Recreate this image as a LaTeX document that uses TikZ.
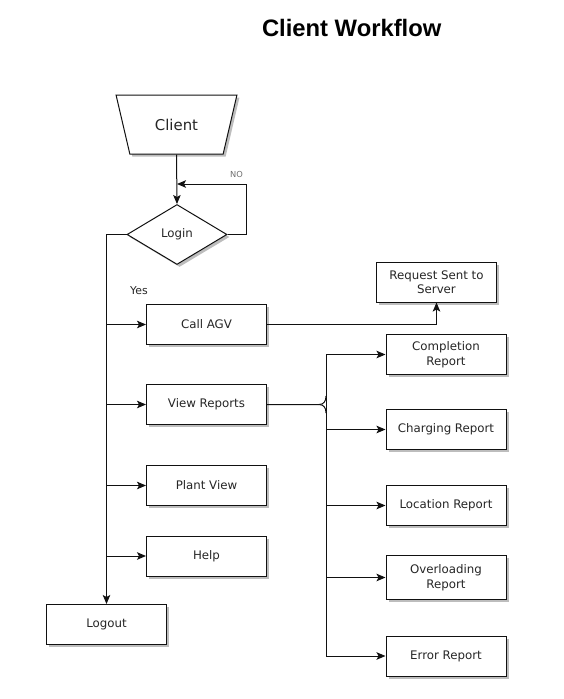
\documentclass[tikz,border=0pt]{standalone}
\usepackage{fontspec}
\setmainfont{DejaVu Sans}
\newfontfamily\titlefont{Liberation Sans}
\usetikzlibrary{
  arrows.meta,
  shadows,
  shapes.geometric
}
\definecolor{ink}{HTML}{111111}
\definecolor{label}{HTML}{262626}
\definecolor{faint}{HTML}{6E6E6E}
\definecolor{shade}{HTML}{BDBDBD}
\tikzset{
  flow/.style={
    -{Stealth[length=9pt, width=7.5pt, inset=2pt]},
    line width=1pt,
    draw=ink
  },
  link/.style={
    line width=1pt,
    draw=ink
  },
  boxshade/.style={
    drop shadow={shadow xshift=2.5pt, shadow yshift=-2.5pt, fill=shade, opacity=1}
  },
  action/.style={
    draw=ink,
    fill=white,
    line width=1pt,
    boxshade,
    minimum width=120pt,
    minimum height=40pt,
    inner sep=2pt,
    align=center,
    text=label,
    font=\fontsize{11.8}{14.5}\selectfont
  },
  decision/.style={
    diamond,
    aspect=1.67,
    draw=ink,
    fill=white,
    line width=1pt,
    boxshade,
    minimum width=100pt,
    minimum height=60pt,
    inner sep=0pt,
    text=label,
    font=\fontsize{11.8}{14.5}\selectfont
  },
  terminal/.style={
    trapezium,
    trapezium stretches=true,
    shape border rotate=180,
    trapezium left angle=68,
    trapezium right angle=68,
    draw=ink,
    fill=white,
    line width=1pt,
    boxshade,
    minimum width=121pt,
    minimum height=59pt,
    text=label,
    font=\fontsize{14.9}{18}\selectfont
  },
  tag/.style={
    inner sep=0pt,
    text=label
  }
}

\begin{document}
\begin{tikzpicture}[x=1pt, y=-1pt]
  \useasboundingbox (0,0) rectangle (563,699);

  \node[font=\titlefont\bfseries\fontsize{23.8}{28}\selectfont] (title) at (351.7,28) {Client Workflow};

  % login part
  \node[terminal] (client) at (176.5,124.5) {Client};
  \node[decision] (login) at (177,234.5) {Login};
  \node[tag, text=faint, font=\fontsize{8.3}{10}\selectfont] (no) at (236.5,174) {NO};
  \node[tag, font=\fontsize{10.9}{13}\selectfont] (yes) at (139,291) {Yes};

  % menu
  \node[action] (callagv) at (206.5,324.5) {Call AGV};
  \node[action] (viewrep) at (206.5,404.5) {View Reports};
  \node[action] (plantview) at (206.5,485.5) {Plant View};
  \node[action] (help) at (206.5,556) {Help};
  \node[action] (logout) at (106.5,624.5) {Logout};
  \node[action] (request) at (436.5,282) {Request Sent to\\Server};

  % reports
  \node[action] (completion) at (446,354.5) {Completion\\Report};
  \node[action] (charging) at (446,429.5) {Charging Report};
  \node[action] (location) at (446,505.5) {Location Report};
  \node[action, minimum height=44pt] (overloading) at (446,577.5) {Overloading\\Report};
  \node[action] (errorrep) at (446,656) {Error Report};

  \coordinate (loopin) at (177,184);
  \coordinate (spine) at (106.5,234.5);
  \coordinate (brace) at (319,404.5);
  \coordinate (bustop) at (326,354.5);
  \coordinate (busbot) at (326,656);

  \draw[flow] (client.south) -- (login.north);
  \draw[flow] (login.east) -- ++(19,0) |- (loopin);
  \draw[flow] (login.west) -| (logout.north);
  \foreach \n in {callagv,viewrep,plantview,help}
    \draw[flow] (spine |- \n.west) -- (\n.west);
  \draw[flow] (callagv.east) -| (request.south);

  \draw[link] (viewrep.east) -- (brace) .. controls (324,404.5) and (326,401) .. (326,396);
  \draw[link] (brace) .. controls (324,404.5) and (326,408) .. (326,413);
  \draw[link] (bustop) -- (busbot);
  \foreach \n in {completion,charging,location,overloading,errorrep}
    \draw[flow] (busbot |- \n.west) -- (\n.west);
\end{tikzpicture}
\end{document}
